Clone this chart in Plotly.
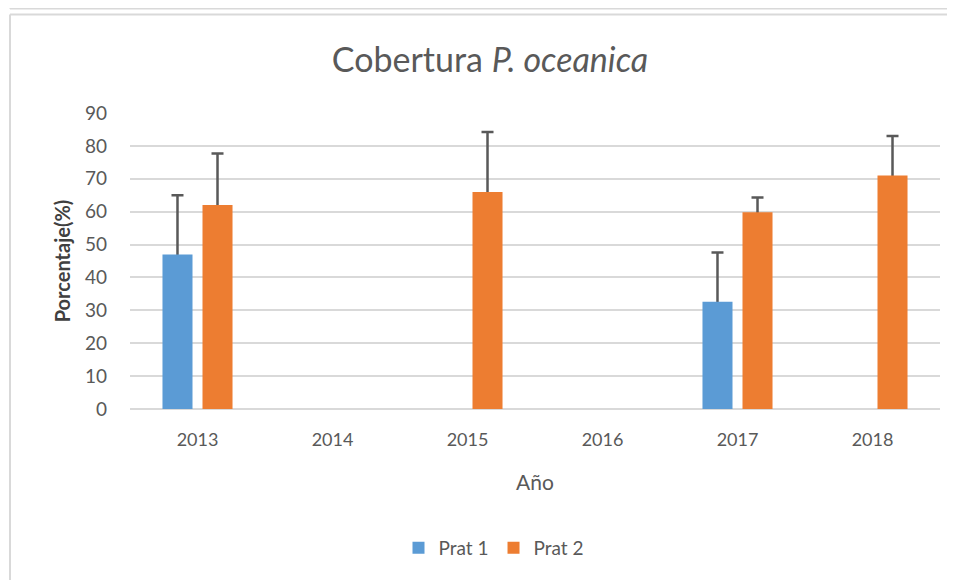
import plotly.graph_objects as go

years = ["2013", "2014", "2015", "2016", "2017", "2018"]
prat1 = [47, None, None, None, 32.6, None]
prat1_err = [18, None, None, None, 15, None]
prat2 = [62, None, 66, None, 59.8, 71]
prat2_err = [15.7, None, 18.2, None, 4.5, 12]
y_ticks = [0, 10, 20, 30, 40, 50, 60, 70, 80, 90]

FONT = "Lato"
GREY = "#595959"
OFF = 8  # page body margin

W, H = 955, 580
ml = 130 - OFF
mt = 113 - OFF
mr = W - (940 - OFF)
mb = H - (409 - OFF)
pw, ph = W - ml - mr, H - mt - mb

def px_x(p):
    return (p - OFF - ml) / pw

def px_y(p):
    return (H - mb - (p - OFF)) / ph

fig = go.Figure()
series = [("Prat 1", prat1, prat1_err, "#5b9bd5"), ("Prat 2", prat2, prat2_err, "#ed7d31")]
for i, (name, vals, errs, col) in enumerate(series):
    # error bars drawn first (on an invisible bar), then covered below the bar top by the real bar
    fig.add_trace(go.Bar(
        name=name, x=years, y=vals, offsetgroup=str(i), showlegend=False, hoverinfo="skip",
        marker=dict(color="rgba(0,0,0,0)", line=dict(width=0)),
        error_y=dict(type="data", array=errs, visible=True, color=GREY, thickness=2.5, width=6),
    ))
for i, (name, vals, errs, col) in enumerate(series):
    fig.add_trace(go.Bar(
        name=name, x=years, y=vals, offsetgroup=str(i), marker=dict(color=col, line=dict(width=0)),
    ))

border = dict(color="#d9d9d9", width=2)
shapes = [
    dict(type="line", xref="paper", yref="paper", x0=px_x(10), x1=px_x(970), y0=px_y(8.5), y1=px_y(8.5), line=border),
    dict(type="line", xref="paper", yref="paper", x0=px_x(10), x1=px_x(10), y0=px_y(-5), y1=px_y(8.5), line=border),
    dict(type="line", xref="paper", yref="paper", x0=px_x(10), x1=px_x(970), y0=px_y(14.5), y1=px_y(14.5), line=border),
    dict(type="line", xref="paper", yref="paper", x0=px_x(10), x1=px_x(10), y0=px_y(14.5), y1=px_y(600), line=border),
]

fig.update_layout(
    width=W, height=H,
    margin=dict(l=ml, r=mr, t=mt, b=mb),
    paper_bgcolor="white", plot_bgcolor="white",
    font=dict(family=FONT, color=GREY, size=18),
    title=dict(text="Cobertura <i>P. oceanica</i>", x=px_x(490), xref="paper", xanchor="center",
               y=1 - (60 - OFF) / H, yanchor="middle", font=dict(size=34, color=GREY, family=FONT)),
    barmode="group", bargap=0.407, bargroupgap=0.25,
    xaxis=dict(title=dict(text="Año", font=dict(size=21, color=GREY), standoff=26),
               tickfont=dict(size=18, color=GREY), showgrid=False, showline=False, ticks="",
               ticklabelstandoff=18),
    yaxis=dict(title=dict(text="<b>Porcentaje(%)</b>", font=dict(size=20, color="#404040"), standoff=8),
               range=[0, 90], tickvals=y_ticks, tickfont=dict(size=19, color=GREY),
               ticklabelstandoff=22,
               showgrid=True, gridcolor="#d9d9d9", gridwidth=1.5,
               zeroline=True, zerolinecolor="#d9d9d9", zerolinewidth=1.5, showline=False),
    legend=dict(orientation="h", x=px_x(494), xanchor="center", y=px_y(548), yanchor="middle",
                font=dict(size=19, color=GREY), itemwidth=30, traceorder="normal"),
    shapes=shapes,
)

fig.write_html("out.html")
